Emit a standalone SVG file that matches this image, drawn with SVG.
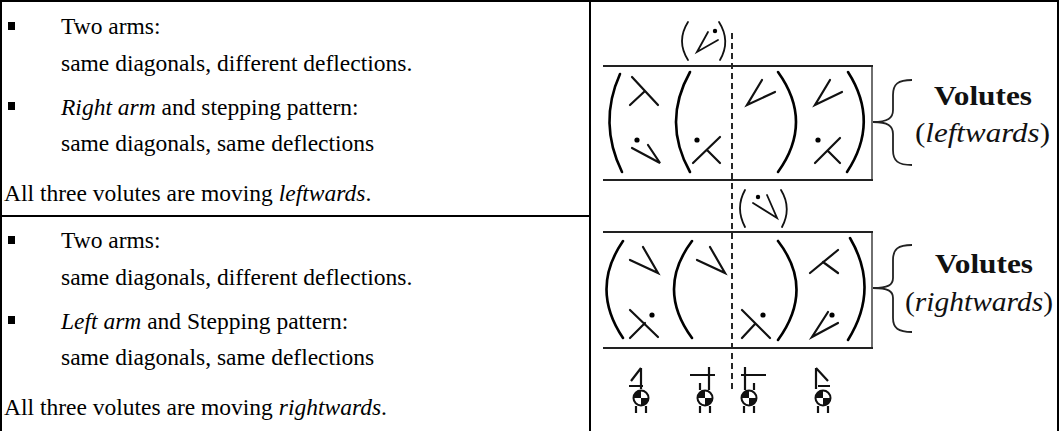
<svg xmlns="http://www.w3.org/2000/svg" width="1060" height="431" viewBox="0 0 1060 431">
<style>
.txt{font-family:"Liberation Serif","Times New Roman",serif;font-size:23.5px;fill:#000}
.lbl{font-family:"Liberation Serif","Times New Roman",serif;font-size:28px;fill:#111}
.b{font-weight:bold}
.grid{stroke:#000;stroke-width:2;fill:none}
.ln{stroke:#222;stroke-width:2;fill:none}
.edge{stroke:#222;stroke-width:1.3;fill:none}
.par{stroke:#000;stroke-width:2.6;fill:none;stroke-linecap:round}
.sym{stroke:#111;stroke-width:2.2;fill:none;stroke-linecap:round;stroke-linejoin:miter}
.sml{stroke:#111;stroke-width:1.8;fill:none;stroke-linecap:round}
.pin{stroke:#111;stroke-width:2.2;fill:none;stroke-linecap:butt}
.dash{stroke:#111;stroke-width:1.8;stroke-dasharray:6 4;fill:none}
.brace{stroke:#222;stroke-width:1.8;fill:none}
</style>
<rect width="1060" height="431" fill="#fff"/>
<g id="table">
<rect class="grid" x="1" y="1" width="1057" height="440"/>
<line class="grid" x1="590" y1="1" x2="590" y2="431"/>
<line class="grid" x1="1" y1="216" x2="590" y2="216"/>
</g>
<g id="text-top" class="txt">
<rect x="8" y="22" width="7" height="8" fill="#000"/>
<text x="61" y="34">Two arms:</text>
<text x="61" y="71">same diagonals, different deflections.</text>
<rect x="8" y="102" width="7" height="8" fill="#000"/>
<text x="61" y="115"><tspan font-style="italic">Right arm</tspan> and stepping pattern:</text>
<text x="61" y="151">same diagonals, same deflections</text>
<text x="4" y="201">All three volutes are moving <tspan font-style="italic">leftwards</tspan>.</text>
</g>
<g id="text-bottom" class="txt">
<rect x="8" y="236" width="7" height="8" fill="#000"/>
<text x="61" y="248">Two arms:</text>
<text x="61" y="285">same diagonals, different deflections.</text>
<rect x="8" y="316" width="7" height="8" fill="#000"/>
<text x="61" y="329"><tspan font-style="italic">Left arm</tspan> and Stepping pattern:</text>
<text x="61" y="365">same diagonals, same deflections</text>
<text x="4" y="415">All three volutes are moving <tspan font-style="italic">rightwards</tspan>.</text>
</g>
<g id="connectors">
<path class="dash" d="M732,33 L732,393"/>
</g>
<g id="box-top">
<path class="ln" d="M603,66 L873,66 M603,180 L873,180"/>
<path class="edge" d="M872,66 L872,180"/>
<path class="par" d="M620,74 Q598,123 622,172"/>
<path class="par" d="M690,72 Q662,122 690,172"/>
<path class="par" d="M778,72 Q814,122 778,172"/>
<path class="par" d="M848,72 Q880,122 847,172"/>
<path class="sym" d="M632,77 L658,105 M645,91 L630,105"/>
<path class="sym" d="M632,148 L660,163 L648,145"/><circle cx="637" cy="140" r="2.6"/>
<path class="sym" d="M693,163 L720,137 M707,150 L720,163"/><circle cx="697" cy="140" r="2.6"/>
<path class="sym" d="M762,80 L747,105 L775,92"/>
<path class="sym" d="M830,80 L815,105 L842,92"/>
<path class="sym" d="M815,163 L840,138 M828,151 L840,163"/><circle cx="818" cy="140" r="2.6"/>
</g>
<g id="label-top">
<path class="sml" d="M688,22 Q676,41 688,60 M719,22 Q731,41 720,60"/>
<path class="sml" d="M708,32 L697,52 L718,40"/><circle cx="715" cy="31" r="2.2"/>
</g>
<g id="label-mid">
<path class="sml" d="M745,190 Q735,208 745,227 M781,190 Q792,208 782,227"/>
<path class="sml" d="M753,203 L777,218 L767,195"/><circle cx="758" cy="197" r="2.2"/>
</g>
<g id="box-bottom">
<path class="ln" d="M603,232 L873,232 M603,348 L873,348"/>
<path class="edge" d="M872,232 L872,348"/>
<path class="par" d="M623,241 Q590,289 623,338"/>
<path class="par" d="M692,241 Q656,289 692,338"/>
<path class="par" d="M778,241 Q815,289 778,340"/>
<path class="par" d="M850,238 Q880,289 848,340"/>
<path class="sym" d="M630,260 L658,273 L643,247"/>
<path class="sym" d="M697,260 L725,273 L710,247"/>
<path class="sym" d="M630,310 L658,337 M630,338 L645,323"/><circle cx="652" cy="315" r="2.6"/>
<path class="sym" d="M742,310 L770,338 M742,338 L755,324"/><circle cx="763" cy="315" r="2.6"/>
<path class="sym" d="M810,273 L838,250 M823,262 L838,273"/>
<path class="sym" d="M828,312 L812,337 L838,323"/><circle cx="832" cy="315" r="2.6"/>
</g>
<g id="brace-top">
<path class="brace" d="M912,80 C898,80 893,84 893,95 L893,110 C893,118 888,122 873,122 C888,122 893,126 893,134 L893,150 C893,161 898,165 912,165"/>
<text class="lbl b" x="934" y="105" textLength="98" lengthAdjust="spacingAndGlyphs">Volutes</text>
<text class="lbl" x="915" y="142" textLength="135" lengthAdjust="spacingAndGlyphs">(<tspan font-style="italic">leftwards</tspan>)</text>
</g>
<g id="brace-bottom">
<path class="brace" d="M912,245 C898,245 893,249 893,260 L893,278 C893,285 888,288 873,288 C888,288 893,291 893,298 L893,318 C893,328 898,332 912,332"/>
<text class="lbl b" x="935" y="273" textLength="98" lengthAdjust="spacingAndGlyphs">Volutes</text>
<text class="lbl" x="905" y="311" textLength="148" lengthAdjust="spacingAndGlyphs">(<tspan font-style="italic">rightwards</tspan>)</text>
</g>
<g id="pins">
<g id="pin1">
<path class="pin" d="M641,368 L641,389 M641,368 L631,381 M629,386 L643,386"/>
<circle cx="641" cy="398" r="7.5" fill="#fff" stroke="#111" stroke-width="2"/>
<path d="M641,398 L641,390.5 A7.5,7.5 0 0 0 633.5,398 Z M641,398 L641,405.5 A7.5,7.5 0 0 0 648.5,398 Z" fill="#111"/>
<path class="pin" d="M636,406 L636,413 M646,406 L646,413"/>
</g>
<g id="pin2">
<path class="pin" d="M690,375 L715,375 M709,367 L709,390 M700,383 L700,390"/>
<circle cx="705" cy="398" r="7.5" fill="#fff" stroke="#111" stroke-width="2"/>
<path d="M705,398 L705,390.5 A7.5,7.5 0 0 0 697.5,398 Z M705,398 L705,405.5 A7.5,7.5 0 0 0 712.5,398 Z" fill="#111"/>
<path class="pin" d="M700,406 L700,413 M710,406 L710,413"/>
</g>
<g id="pin3">
<path class="pin" d="M741,375 L766,375 M745,367 L745,390 M754,383 L754,390"/>
<circle cx="749" cy="398" r="7.5" fill="#fff" stroke="#111" stroke-width="2"/>
<path d="M749,398 L749,390.5 A7.5,7.5 0 0 0 741.5,398 Z M749,398 L749,405.5 A7.5,7.5 0 0 0 756.5,398 Z" fill="#111"/>
<path class="pin" d="M744,406 L744,413 M754,406 L754,413"/>
</g>
<g id="pin4">
<path class="pin" d="M816,368 L816,389 M816,368 L828,381 M818,386 L830,386"/>
<circle cx="823" cy="398" r="7.5" fill="#fff" stroke="#111" stroke-width="2"/>
<path d="M823,398 L823,390.5 A7.5,7.5 0 0 0 815.5,398 Z M823,398 L823,405.5 A7.5,7.5 0 0 0 830.5,398 Z" fill="#111"/>
<path class="pin" d="M818,406 L818,413 M828,406 L828,413"/>
</g>
</g>
</svg>
